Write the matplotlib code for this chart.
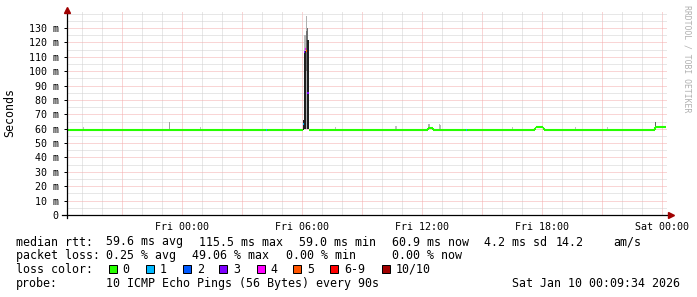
import matplotlib
matplotlib.use('Agg')
import matplotlib.pyplot as plt
from matplotlib.patches import Rectangle
from matplotlib.lines import Line2D
from matplotlib.ticker import MultipleLocator, FuncFormatter

W, H = 697, 297
MONO = 'DejaVu Sans Mono'

# median rtt, step series: hours relative to Fri 00:00, value in ms, loss count class
rtt_t = [-5.75, 4.20, 4.25, 6.05, 6.10, 6.15, 6.20, 6.25, 6.35, 12.30, 12.55,
         14.20, 14.25, 17.65, 17.70, 18.05, 18.10, 23.65, 24.20]
rtt_ms = [59.3, 59.3, 59.3, 63.5, 113.0, 115.5, 114.0, 85.0, 59.3, 60.4, 59.3,
          59.3, 59.3, 60.2, 61.0, 60.3, 59.3, 61.0, 61.0]
rtt_loss = [0, 1, 0, 1, 3, 4, 5, 3, 0, 0, 0, 1, 0, 0, 0, 0, 0, 0, 0]

# smoke (spread of the individual pings)
smoke_t = [-4.95, -0.65, -0.65, 0.90, 6.05, 6.10, 6.10, 6.15, 6.15, 6.20, 6.20,
           6.25, 6.25, 6.30, 7.65, 10.65, 10.70, 12.30, 12.35, 12.85, 12.90, 16.50,
           19.65, 21.25, 23.65]
smoke_lo = [59.5, 60.0, 58.8, 60.0, 59.0, 114.0, 60.0, 114.0, 60.0, 60.0, 100.0,
            122.0, 60.0, 60.0, 60.0, 60.0, 60.0, 60.0, 60.0, 60.0, 60.0, 60.0,
            60.0, 60.0, 60.0]
smoke_hi = [61.0, 65.0, 59.8, 61.0, 66.0, 125.0, 114.0, 125.0, 114.0, 138.5, 128.0,
            130.0, 122.0, 122.0, 61.0, 62.0, 62.0, 63.5, 63.0, 63.0, 62.5, 61.5,
            61.0, 61.0, 65.0]
smoke_shade = ['#c0c0c0', '#a0a0a0', '#202020', '#c0c0c0', '#202020', '#b8b8b8', '#202020',
               '#b8b8b8', '#202020', '#b0b0b0', '#707070', '#707070', '#202020', '#202020',
               '#c0c0c0', '#c0c0c0', '#c0c0c0', '#b0b0b0', '#b0b0b0', '#b8b8b8', '#b8b8b8',
               '#c0c0c0', '#c0c0c0', '#c0c0c0', '#606060']

loss_labels = ['0', '1', '2', '3', '4', '5', '6-9', '10/10']
loss_colors = ['#26ff00', '#00b8ff', '#0059ff', '#7e00ff', '#ff00ff', '#ff5500', '#ff0000', '#a10000']

xticks = [0, 6, 12, 18, 24]
xtick_labels = ['Fri 00:00', 'Fri 06:00', 'Fri 12:00', 'Fri 18:00', 'Sat 00:00']

legend_rtt = [('median rtt:', 16), ('59.6 ms avg', 106.5), ('115.5 ms max', 199),
              ('59.0 ms min', 299), ('60.9 ms now', 392.5), ('4.2 ms sd', 484.5),
              ('14.2', 556), ('am/s', 613.5)]
legend_loss = [('packet loss:', 16), ('0.25 % avg', 106.5), ('49.06 % max', 192.5),
               ('0.00 % min', 286), ('0.00 % now', 392.5)]
probe_text = '10 ICMP Echo Pings (56 Bytes) every 90s'
stamp_text = 'Sat Jan 10 00:09:34 2026'

plt.rcParams['font.family'] = MONO

fig = plt.figure(figsize=(W / 100, H / 100), dpi=100)
fig.patch.set_facecolor('white')

x0, x1 = -5.75, 24.25
ymax = 141.0
ax = fig.add_axes([67 / W, (H - 215) / H, 600 / W, 202.8 / H])
ax.set_xlim(x0, x1)
ax.set_ylim(0, ymax)
for s in ax.spines.values():
    s.set_visible(False)

ax.xaxis.set_major_locator(MultipleLocator(3))
ax.xaxis.set_minor_locator(MultipleLocator(1))
ax.yaxis.set_major_locator(MultipleLocator(10))
ax.yaxis.set_minor_locator(MultipleLocator(5))
ax.grid(which='minor', color='#d0d0d0', linestyle=(0, (1, 1)), linewidth=0.72)
ax.grid(which='major', color='#f4acac', linestyle=(0, (1, 1)), linewidth=0.72)
ax.set_axisbelow(True)

ax.xaxis.set_major_formatter(FuncFormatter(lambda v, p: ''))
ax.yaxis.set_major_formatter(FuncFormatter(lambda v, p: '0' if v == 0 else f'{int(round(v))} m'))
ax.tick_params(axis='y', which='major', length=2, width=0.72, pad=4, labelsize=7.2)
ax.tick_params(axis='y', which='minor', length=0)
ax.tick_params(axis='x', which='both', length=0)
ax.set_yticks(range(0, 140, 10))

# smoke
for t, lo, hi, c in zip(smoke_t, smoke_lo, smoke_hi, smoke_shade):
    ax.bar(t, hi - lo, bottom=lo, width=0.05, align='edge', color=c, linewidth=0, zorder=2)

# median line, one colour per loss class; verticals only inside one class
for i in range(len(rtt_t) - 1):
    c = loss_colors[rtt_loss[i]]
    ax.plot([rtt_t[i], rtt_t[i + 1]], [rtt_ms[i], rtt_ms[i]], color=c, lw=1.5,
            solid_capstyle='butt', zorder=3)
    if i > 0 and rtt_loss[i] == rtt_loss[i - 1] and rtt_ms[i] != rtt_ms[i - 1]:
        ax.plot([rtt_t[i], rtt_t[i]], [rtt_ms[i - 1], rtt_ms[i]], color=c, lw=1.5,
                solid_capstyle='butt', zorder=3)

# axes with arrows
ax.add_line(Line2D([-5 / 600, 603 / 600], [0, 0], transform=ax.transAxes, color='black',
                   lw=0.9, clip_on=False, zorder=5))
ax.add_line(Line2D([0, 0], [-3 / 202.8, 1.01], transform=ax.transAxes, color='black',
                   lw=0.9, clip_on=False, zorder=5))
ax.plot([1.006], [0], marker='>', ms=4, color='#a00000', transform=ax.transAxes,
        clip_on=False, zorder=6)
ax.plot([0], [1.013], marker='^', ms=4, color='#a00000', transform=ax.transAxes,
        clip_on=False, zorder=6)

for v, lab in zip(xticks, xtick_labels):
    ax.text(v, -6.6 / 1.4385, lab, ha='center', va='top', fontsize=7.2, family=MONO)

fig.text(10 / W, 1 - 113 / H, 'Seconds', rotation=90, ha='center', va='center',
         fontsize=8.4, family=MONO)
fig.text(687 / W, 1 - 5 / H, 'RRDTOOL / TOBI OETIKER', rotation=-90, ha='center', va='top',
         fontsize=5.9, color='#b0b0b0', family=MONO)


def ftext(x, y, s, **kw):
    fig.text(x / W, 1 - y / H, s, fontsize=8.4, family=MONO, va='baseline', ha='left', **kw)


for s, x in legend_rtt:
    ftext(x, 245.5, s)
for s, x in legend_loss:
    ftext(x, 259.3, s)

ftext(16, 273, 'loss color:')
sq_x = [108.7, 145.7, 182.7, 219.3, 256.7, 293.3, 330, 381.7]
for x, lab, c in zip(sq_x, loss_labels, loss_colors):
    fig.patches.append(Rectangle((x / W, 1 - 273 / H), 8 / W, 8 / H, transform=fig.transFigure,
                                 facecolor=c, edgecolor='black', linewidth=0.72))
    ftext(x + 14, 273, lab)

ftext(16, 286.8, 'probe:')
ftext(106.5, 286.8, probe_text)
ftext(512.5, 286.8, stamp_text)

fig.savefig('out.png', dpi=100, facecolor='white')
